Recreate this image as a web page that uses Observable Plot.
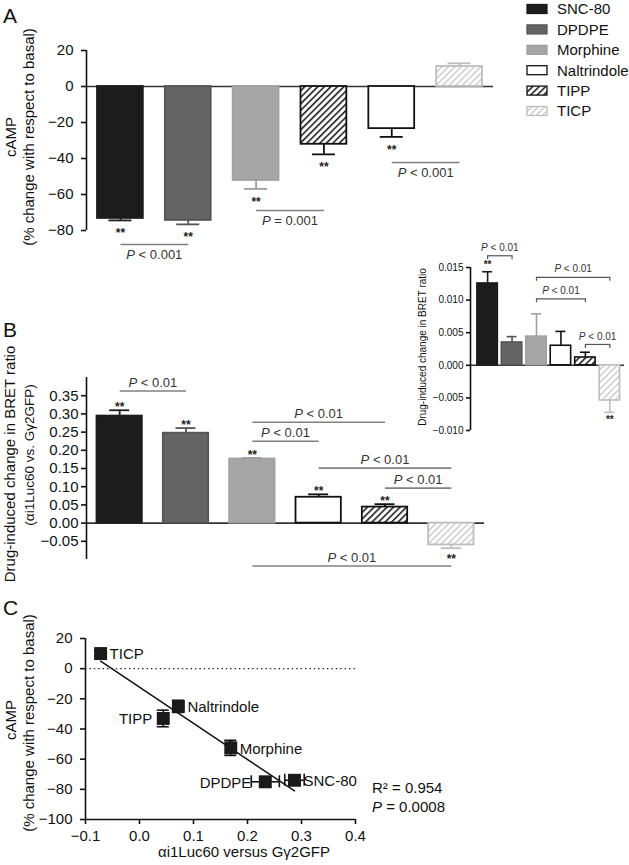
<!DOCTYPE html>
<html><head><meta charset="utf-8">
<script src="https://cdn.jsdelivr.net/npm/d3@7"></script>
<script src="https://cdn.jsdelivr.net/npm/@observablehq/plot@0.6"></script>
<style>
body{margin:0;background:#fff}
#fig{position:relative;width:629px;height:865px;overflow:hidden;background:#fff;font-family:Arial,"Liberation Sans",sans-serif}
.panel{position:absolute}
.panel svg{overflow:visible}
#overlay{position:absolute;left:0;top:0;pointer-events:none}
[aria-label^="y-axis"] path,[aria-label^="x-axis"] path,[aria-label^="y-axis"] line,[aria-label^="x-axis"] line{stroke-width:1.6px}
</style></head>
<body>
<div id="fig">
  <div class="panel" id="pA" style="left:0;top:0"></div>
  <div class="panel" id="pB" style="left:0;top:340px"></div>
  <div class="panel" id="pI" style="left:400px;top:230px"></div>
  <div class="panel" id="pC" style="left:0;top:590px"></div>
  <svg id="overlay" width="629" height="865">
    <defs>
      <pattern id="hatchDark" patternUnits="userSpaceOnUse" width="4.6" height="4.6" patternTransform="rotate(45)">
        <rect width="4.6" height="4.6" fill="#fff"/>
        <line x1="0.8" y1="0" x2="0.8" y2="4.6" stroke="#111" stroke-width="1.5"/>
      </pattern>
      <pattern id="hatchLight" patternUnits="userSpaceOnUse" width="4.6" height="4.6" patternTransform="rotate(45)">
        <rect width="4.6" height="4.6" fill="#fff"/>
        <line x1="0.8" y1="0" x2="0.8" y2="4.6" stroke="#c4c4c4" stroke-width="1.3"/>
      </pattern>
    </defs>
  </svg>
</div>
<script>
// ---------- data ----------
const catsA = ["SNC-80", "DPDPE", "Morphine", "TIPP", "Naltrindole", "TICP"];
const valsA = [-73.3, -74.4, -52.2, -32.1, -23.4, 11.1];
const errA = [1.1, 2.2, 4.7, 5.6, 4.6, 1.8];
const starsA = ["**", "**", "**", "**", "**", ""];
const ticksA = [-80, -60, -40, -20, 0, 20];
const sigA = [
  {from: "SNC-80", to: "DPDPE", level: -87.8, text: "P < 0.001"},
  {from: "Morphine", to: "TIPP", level: -68.9, text: "P = 0.001"},
  {from: "Naltrindole", to: "TICP", level: -42.2, text: "P < 0.001"}
];

const catsB = ["SNC-80", "DPDPE", "Morphine", "Naltrindole", "TIPP", "TICP"];
const valsB = [0.294, 0.247, 0.176, 0.071, 0.044, -0.060];
const errB = [0.016, 0.014, 0.003, 0.008, 0.008, 0.009];
const starsB = ["**", "**", "**", "**", "**", "**"];
const ticksB = [-0.05, 0, 0.05, 0.10, 0.15, 0.20, 0.25, 0.30, 0.35];
const sigB = [
  {from: "SNC-80", to: "DPDPE", level: 0.363, text: "P < 0.01"},
  {from: "Morphine", to: "TIPP", level: 0.277, text: "P < 0.01"},
  {from: "Morphine", to: "Naltrindole", level: 0.225, text: "P < 0.01"},
  {from: "Naltrindole", to: "TICP", level: 0.151, text: "P < 0.01"},
  {from: "TIPP", to: "TICP", level: 0.096, text: "P < 0.01"},
  {from: "Morphine", to: "TICP", level: -0.118, text: "P < 0.01"}
];

const valsInset = [0.01255, 0.0035, 0.0044, 0.0030, 0.0012, -0.0054];
const errInset = [0.0018, 0.0009, 0.0035, 0.0022, 0.0008, 0.0018];
const starsInset = ["**", "", "", "", "", "**"];
const ticksInset = [-0.010, -0.005, 0, 0.005, 0.010, 0.015];
const sigInset = [
  {from: "SNC-80", to: "DPDPE", level: 0.0168, text: "P < 0.01"},
  {from: "Morphine", to: "TICP", level: 0.0135, text: "P < 0.01"},
  {from: "Morphine", to: "TIPP", level: 0.0102, text: "P < 0.01"},
  {from: "TIPP", to: "TICP", level: 0.0032, text: "P < 0.01"}
];

const catsC = ["TICP", "TIPP", "Naltrindole", "Morphine", "DPDPE", "SNC-80"];
const xC = [-0.072, 0.044, 0.072, 0.169, 0.233, 0.287];
const yC = [10, -33, -25, -52.5, -75, -74];
const xErrC = [0.004, 0.004, 0.004, 0.003, 0.026, 0.018];
const yErrC = [1.5, 5.5, 4, 5, 2.5, 1];
const ticksCx = [-0.1, 0, 0.1, 0.2, 0.3, 0.4];
const ticksCy = [-100, -80, -60, -40, -20, 0, 20];

const legendCats = ["SNC-80", "DPDPE", "Morphine", "Naltrindole", "TIPP", "TICP"];

// ---------- styles ----------
const FONT = 'Arial, "Liberation Sans", sans-serif';
const fillOf = {"SNC-80": "#1c1c1c", "DPDPE": "#646464", "Morphine": "#a6a6a6", "Naltrindole": "#ffffff", "TIPP": "url(#hatchDark)", "TICP": "url(#hatchLight)"};
const strokeOf = {"SNC-80": "#1c1c1c", "DPDPE": "#555555", "Morphine": "#a0a0a0", "Naltrindole": "#111111", "TIPP": "#111111", "TICP": "#bdbdbd"};
const labelDxC = {"TICP": 9, "Naltrindole": 9, "Morphine": 9, "SNC-80": 9, "TIPP": -11, "DPDPE": -14};
const SIG = "#808080";

function barMarks(cats, vals, errs, stars, sig, o) {
  const rows = cats.map((c, i) => ({c, i, v: vals[i], e: errs[i], s: stars[i]}));
  const end = d => d.v + Math.sign(d.v) * d.e;
  const idx = c => cats.indexOf(c);
  const marks = [
    Plot.ruleY([0], {stroke: "#333", strokeWidth: 1.6}),
    Plot.ruleX([o.axisX], {y1: o.yLo, y2: o.yHi, stroke: "#111", strokeWidth: 1.6}),
    Plot.ruleX(rows, {x: "i", y1: "v", y2: end, stroke: d => strokeOf[d.c], strokeWidth: o.sw}),
    Plot.ruleY(rows, {x1: "i", x2: "i", y: end, insetLeft: -o.cap, insetRight: -o.cap, stroke: d => strokeOf[d.c], strokeWidth: o.sw}),
    Plot.rect(rows, {x1: d => d.i - 0.5, x2: d => d.i + 0.5, y1: 0, y2: "v", insetLeft: o.inset, insetRight: o.inset,
      fill: d => fillOf[d.c], stroke: d => strokeOf[d.c], strokeWidth: o.sw}),
    Plot.text(rows.filter(d => d.s && d.v < 0), {x: "i", y: end, text: "s", dy: o.starBelow, fontSize: o.starSize, fontWeight: "bold", fill: "#222"}),
    Plot.text(rows.filter(d => d.s && d.v > 0), {x: "i", y: end, text: "s", dy: o.starAbove, fontSize: o.starSize, fontWeight: "bold", fill: "#222"}),
    Plot.link(sig, {x1: d => idx(d.from), x2: d => idx(d.to), y1: "level", y2: "level", stroke: o.sigStroke, strokeWidth: o.sigWidth}),
    Plot.text(sig, {x: d => (idx(d.from) + idx(d.to)) / 2, y: "level", text: "text", dy: o.sigDy, fontSize: o.sigSize, fill: "#333"})
  ];
  if (o.bracket) {
    const ends = sig.flatMap(d => [{x: idx(d.from), y: d.level}, {x: idx(d.to), y: d.level}]);
    marks.push(Plot.ruleX(ends, {x: "x", y1: "y", y2: "y", insetBottom: -4, stroke: o.sigStroke, strokeWidth: o.sigWidth}));
  }
  return marks;
}

const baseStyle = {fontFamily: FONT, fontSize: "15px", background: "transparent", overflow: "visible", color: "#111"};

// ---------- Panel A ----------
const chartA = Plot.plot({
  width: 520, height: 300, marginLeft: 86, marginRight: 27, marginTop: 50, marginBottom: 70,
  style: baseStyle,
  color: {type: "identity"},
  x: {domain: [-0.5, 5.5], axis: null},
  y: {domain: [-80, 20], ticks: ticksA, tickSize: 5, tickPadding: 8, label: null},
  marks: barMarks(catsA, valsA, errA, starsA, sigA, {axisX: -0.5, yLo: -80, yHi: 20, sw: 1.8, cap: 11.5, inset: 11,
    starBelow: 13, starAbove: -3, starSize: 12, sigStroke: SIG, sigWidth: 1.6, sigDy: 10, sigSize: 13})
});
document.getElementById("pA").appendChild(chartA);

// ---------- Panel B ----------
const chartB = Plot.plot({
  width: 500, height: 240, marginLeft: 86, marginRight: 16, marginTop: 37, marginBottom: 21,
  style: baseStyle,
  color: {type: "identity"},
  x: {domain: [-0.5, 5.5], axis: null},
  y: {domain: [-0.1, 0.4], ticks: ticksB, tickFormat: d3.format(".2f"), tickSize: 5, tickPadding: 3, label: null},
  marks: barMarks(catsB, valsB, errB, starsB, sigB, {axisX: -0.5, yLo: -0.1, yHi: 0.4, sw: 1.8, cap: 10, inset: 10.5,
    starBelow: 11, starAbove: -3, starSize: 12, sigStroke: SIG, sigWidth: 1.6, sigDy: -8, sigSize: 13})
});
document.getElementById("pB").appendChild(chartB);

// ---------- Inset ----------
const chartI = Plot.plot({
  width: 229, height: 210, marginLeft: 70, marginRight: 5, marginTop: 37, marginBottom: 10,
  style: {...baseStyle, fontSize: "10px"},
  color: {type: "identity"},
  x: {domain: [-0.7, 5.6], axis: null},
  y: {domain: [-0.010, 0.015], ticks: ticksInset, tickFormat: d3.format(".3f"), tickSize: 4, tickPadding: 3, label: null},
  marks: barMarks(catsB, valsInset, errInset, starsInset, sigInset, {axisX: -0.7, yLo: -0.010, yHi: 0.015, sw: 1.6, cap: 5, inset: 2,
    starBelow: 7.5, starAbove: -6.5, starSize: 10, sigStroke: "#555", sigWidth: 1.2, sigDy: -8, sigSize: 10, bracket: true})
});
document.getElementById("pI").appendChild(chartI);

// ---------- Panel C ----------
const rowsC = catsC.map((c, i) => ({c, x: xC[i], y: yC[i], xe: xErrC[i], ye: yErrC[i]}));
const capsX = rowsC.flatMap(d => [{x: d.x - d.xe, y: d.y}, {x: d.x + d.xe, y: d.y}]);
const capsY = rowsC.flatMap(d => [{x: d.x, y: d.y - d.ye}, {x: d.x, y: d.y + d.ye}]);
const chartC = Plot.plot({
  width: 629, height: 275, marginLeft: 85, marginRight: 274, marginTop: 48, marginBottom: 46,
  style: baseStyle,
  x: {domain: [-0.1, 0.4], ticks: ticksCx, tickFormat: d3.format(".1f"), tickSize: 5, tickPadding: 6, label: null},
  y: {domain: [-100, 20], ticks: ticksCy, tickSize: 5, tickPadding: 8, label: null},
  marks: [
    Plot.ruleY([0], {stroke: "#222", strokeWidth: 1.4, strokeDasharray: "1.4 3"}),
    Plot.ruleX([-0.1], {y1: -100, y2: 20, stroke: "#111", strokeWidth: 1.6}),
    Plot.ruleY([-100], {x1: -0.1, x2: 0.4, stroke: "#111", strokeWidth: 1.6}),
    Plot.linearRegressionY(rowsC, {x: "x", y: "y", ci: 0, stroke: "#111", strokeWidth: 1.5}),
    Plot.ruleY(rowsC, {x1: d => d.x - d.xe, x2: d => d.x + d.xe, y: "y", stroke: "#111", strokeWidth: 1.6}),
    Plot.ruleX(capsX, {x: "x", y1: "y", y2: "y", insetTop: -6, insetBottom: -6, stroke: "#111", strokeWidth: 1.6}),
    Plot.ruleX(rowsC, {x: "x", y1: d => d.y - d.ye, y2: d => d.y + d.ye, stroke: "#111", strokeWidth: 1.6}),
    Plot.ruleY(capsY, {x1: "x", x2: "x", y: "y", insetLeft: -6, insetRight: -6, stroke: "#111", strokeWidth: 1.6}),
    Plot.dot(rowsC, {x: "x", y: "y", symbol: "square", r: 7.3, fill: "#1a1a1a", stroke: "none"}),
    ...rowsC.map(d => Plot.text([d], {x: "x", y: "y", text: "c", dx: labelDxC[d.c], dy: 1,
      textAnchor: labelDxC[d.c] < 0 ? "end" : "start", fontSize: 15, fill: "#111"}))
  ]
});
document.getElementById("pC").appendChild(chartC);

// ---------- Overlay text: panel letters, axis titles, legend ----------
const ov = d3.select("#overlay").style("font-family", FONT).attr("fill", "#111");
[["A", 23], ["B", 337], ["C", 615]].forEach(([t, y]) =>
  ov.append("text").attr("x", 3).attr("y", y).attr("font-size", 21).text(t));

function vlabel(x, y, size, txt) {
  ov.append("text").attr("transform", `translate(${x},${y}) rotate(-90)`)
    .attr("text-anchor", "middle").attr("font-size", size).text(txt);
}
vlabel(15.5, 137, 15, "cAMP");
vlabel(34, 137, 15, "(% change with respect to basal)");
vlabel(14.5, 464, 15, "Drug-induced change in BRET ratio");
vlabel(34, 455, 13.5, "(\u03b1i1Luc60 vs. G\u03b32GFP)");
vlabel(426, 347, 10, "Drug-induced change in BRET ratio");
vlabel(15.5, 720, 15, "cAMP");
vlabel(34, 723, 15, "(% change with respect to basal)");
ov.append("text").attr("x", 244).attr("y", 857).attr("text-anchor", "middle").attr("font-size", 15)
  .text("\u03b1i1Luc60 versus G\u03b32GFP");
ov.append("text").attr("x", 372).attr("y", 793).attr("font-size", 15).text("R\u00b2 = 0.954");
ov.append("text").attr("x", 372).attr("y", 812).attr("font-size", 15).text("P = 0.0008");

const lg = ov.append("g");
legendCats.forEach((c, i) => {
  const cy = 9 + i * 20.4;
  lg.append("rect").attr("x", 527).attr("y", cy - 4.5).attr("width", 20).attr("height", 9)
    .attr("fill", fillOf[c]).attr("stroke", strokeOf[c]).attr("stroke-width", 1.3);
  lg.append("text").attr("x", 557).attr("y", cy + 5.3).attr("font-size", 15).text(c);
});

// italic "P" in significance / statistics texts
document.querySelectorAll("#fig text").forEach(t => {
  if (t.children.length === 0 && /^P [<=]/.test(t.textContent)) {
    const rest = t.textContent.slice(1);
    t.textContent = "";
    const ts = document.createElementNS("http://www.w3.org/2000/svg", "tspan");
    ts.setAttribute("font-style", "italic");
    ts.textContent = "P";
    t.appendChild(ts);
    t.appendChild(document.createTextNode(rest));
  }
});
</script>
</body></html>
